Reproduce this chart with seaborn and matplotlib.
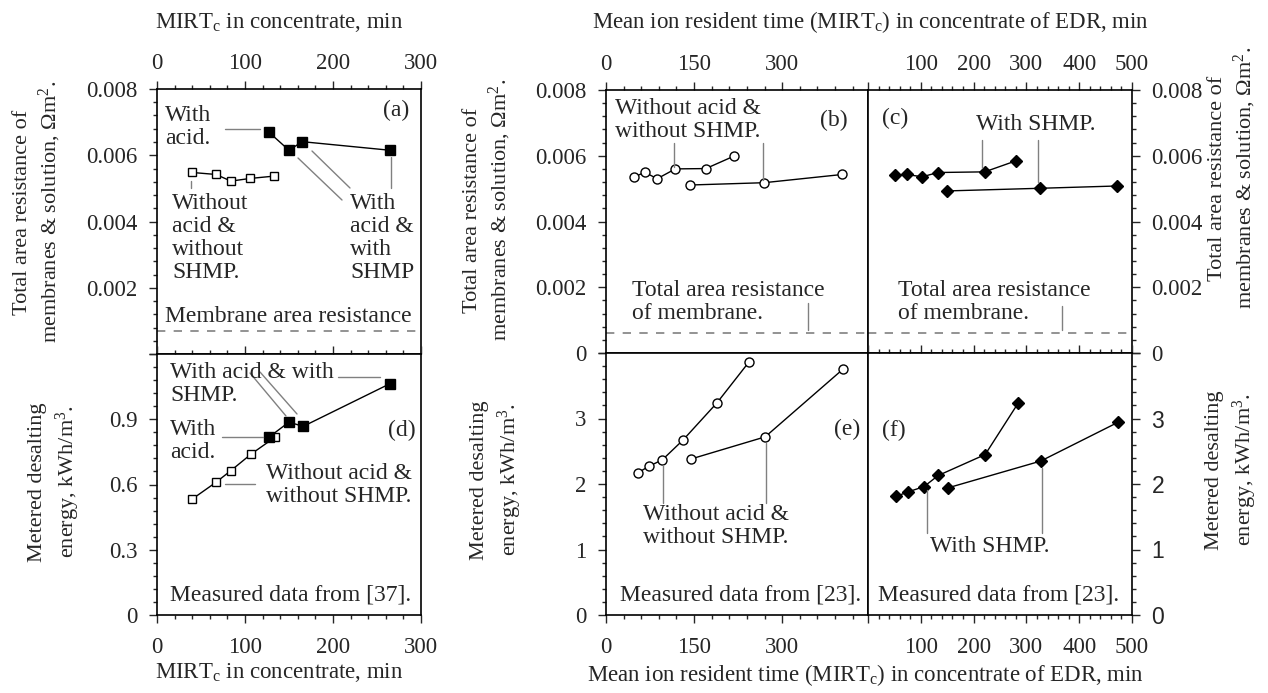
import matplotlib
matplotlib.use("Agg")
import matplotlib.pyplot as plt
import seaborn as sns
from matplotlib.ticker import AutoMinorLocator
from matplotlib.lines import Line2D

sns.set_style("ticks")
plt.rcParams["font.family"] = ["Liberation Serif", "DejaVu Serif"]
plt.rcParams["mathtext.fontset"] = "custom"
plt.rcParams["mathtext.rm"] = "Liberation Serif"
plt.rcParams["mathtext.it"] = "Liberation Serif:italic"

# --- data ---
# (a) / (d): measured data from [37]
mirt_a_open = [40, 67, 84, 106, 133]
res_a_open = [0.00548, 0.00542, 0.00522, 0.0053, 0.00537]
mirt_a_fill = [127, 150, 165, 265]
res_a_fill = [0.0067, 0.00615, 0.00641, 0.00615]
mirt_d_open = [40, 67, 84, 107, 134]
sec_d_open = [0.533, 0.61, 0.664, 0.74, 0.817]
mirt_d_fill = [127, 150, 166, 265]
sec_d_fill = [0.817, 0.887, 0.867, 1.064]
membrane_a = 0.0007

# (b) / (e): without acid & without SHMP, data from [23]
mirt_b1 = [48, 66, 87, 118, 170, 218]
res_b1 = [0.00535, 0.0055, 0.0053, 0.0056, 0.00561, 0.00599]
mirt_b2 = [143, 269, 402]
res_b2 = [0.00511, 0.00518, 0.00543]
mirt_e1 = [54, 73, 96, 131, 189, 244]
sec_e1 = [2.17, 2.27, 2.37, 2.67, 3.24, 3.87]
mirt_e2 = [144, 271, 403]
sec_e2 = [2.38, 2.72, 3.75]

# (c) / (f): with SHMP, data from [23]
mirt_c1 = [51, 73, 103, 132, 221, 281]
res_c1 = [0.00541, 0.00543, 0.00536, 0.00549, 0.00551, 0.00585]
mirt_c2 = [150, 325, 471]
res_c2 = [0.00493, 0.00501, 0.00508]
mirt_f1 = [53, 76, 106, 133, 222, 284]
sec_f1 = [1.81, 1.88, 1.96, 2.13, 2.45, 3.23]
mirt_f2 = [151, 327, 473]
sec_f2 = [1.94, 2.35, 2.94]
membrane_bc = 0.0006

W, H = 1268, 693
fig = plt.figure(figsize=(W / 100, H / 100), dpi=100)


def rect(l, r, t, b):
    return [l / W, 1 - b / H, (r - l) / W, (b - t) / H]


def ftxt(x, y, s, size=17, **kw):
    kw.setdefault("va", "center")
    kw.setdefault("ha", "left")
    kw.setdefault("linespacing", 1.13)
    fig.text(x / W, 1 - y / H, s, fontsize=size, **kw)


def leader(x0, y0, x1, y1):
    fig.add_artist(Line2D([x0 / W, x1 / W], [1 - y0 / H, 1 - y1 / H],
                          color="gray", lw=1))


def series(ax, x, y, marker, filled, ms):
    sns.lineplot(x=x, y=y, ax=ax, color="black", lw=1, marker=marker, ms=ms,
                 markerfacecolor="black" if filled else "white",
                 markeredgecolor="black", markeredgewidth=1,
                 sort=False, estimator=None, legend=False)


def style(ax, xlim, ylim, top=False):
    ax.set_xlim(*xlim)
    ax.set_ylim(*ylim)
    ax.set_xlabel("")
    ax.set_ylabel("")
    ax.tick_params(which="both", direction="out", width=1, labelsize=16.5, pad=8)
    ax.tick_params(axis="x", which="both", pad=5 if top else 10)
    ax.tick_params(which="major", length=6)
    ax.tick_params(which="minor", length=3)
    ax.xaxis.set_minor_locator(AutoMinorLocator(5))
    ax.yaxis.set_minor_locator(AutoMinorLocator(5))
    for s in ax.spines.values():
        s.set_linewidth(1.2)
        s.set_color("black")


res_ticks = [0, 0.002, 0.004, 0.006, 0.008]

# ---- (a) ----
ax_a = fig.add_axes(rect(157, 421, 89, 354))
series(ax_a, mirt_a_open, res_a_open, "s", False, 6)
series(ax_a, mirt_a_fill, res_a_fill, "s", True, 7.5)
ax_a.axhline(membrane_a, color="gray", lw=1.2, ls=(0, (5, 5)))
style(ax_a, (0, 300), (0, 0.008), top=True)
ax_a.tick_params(axis="x", which="both", bottom=False, top=True,
                 labelbottom=False, labeltop=True)
ax_a.set_xticks([0, 100, 200, 300])
ax_a.set_yticks(res_ticks, labels=["", "0.002", "0.004", "0.006", "0.008"])

# ---- (d) ----
ax_d = fig.add_axes(rect(157, 421, 354, 615))
series(ax_d, mirt_d_open, sec_d_open, "s", False, 6)
series(ax_d, mirt_d_fill, sec_d_fill, "s", True, 7.5)
style(ax_d, (0, 300), (0, 1.2))
ax_d.tick_params(axis="x", which="both", bottom=True, top=True,
                 labelbottom=True, labeltop=False)
ax_d.set_xticks([0, 100, 200, 300])
ax_d.set_yticks([0, 0.3, 0.6, 0.9, 1.2], labels=["0", "0.3", "0.6", "0.9", ""])

# ---- (b) ----
ax_b = fig.add_axes(rect(606, 868, 90, 353))
series(ax_b, mirt_b1, res_b1, "o", False, 6.5)
series(ax_b, mirt_b2, res_b2, "o", False, 6.5)
ax_b.axhline(membrane_bc, color="gray", lw=1.2, ls=(0, (5, 5)))
style(ax_b, (0, 446), (0, 0.008), top=True)
ax_b.tick_params(axis="x", which="both", bottom=False, top=True,
                 labelbottom=False, labeltop=True)
ax_b.set_xticks([0, 150, 300])
ax_b.set_yticks(res_ticks, labels=["0", "0.002", "0.004", "0.006", "0.008"])

# ---- (e) ----
ax_e = fig.add_axes(rect(606, 868, 353, 615))
series(ax_e, mirt_e1, sec_e1, "o", False, 6.5)
series(ax_e, mirt_e2, sec_e2, "o", False, 6.5)
style(ax_e, (0, 446), (0, 4))
ax_e.tick_params(axis="x", which="both", bottom=True, top=False)
ax_e.set_xticks([0, 150, 300])
ax_e.set_yticks([0, 1, 2, 3, 4], labels=["0", "1", "2", "3", ""])

# ---- (c) ----
ax_c = fig.add_axes(rect(868, 1132, 90, 353))
series(ax_c, mirt_c1, res_c1, "D", True, 6)
series(ax_c, mirt_c2, res_c2, "D", True, 6)
ax_c.axhline(membrane_bc, color="gray", lw=1.2, ls=(0, (5, 5)))
style(ax_c, (0, 500), (0, 0.008), top=True)
ax_c.tick_params(axis="x", which="both", bottom=False, top=True,
                 labelbottom=False, labeltop=True)
ax_c.tick_params(axis="y", which="both", left=False, right=True,
                 labelleft=False, labelright=True)
ax_c.set_xticks([0, 100, 200, 300, 400, 500],
                labels=["", "100", "200", "300", "400", "500"])
ax_c.set_yticks(res_ticks, labels=["0", "0.002", "0.004", "0.006", "0.008"])

# ---- (f) ----
ax_f = fig.add_axes(rect(868, 1132, 353, 615))
series(ax_f, mirt_f1, sec_f1, "D", True, 6)
series(ax_f, mirt_f2, sec_f2, "D", True, 6)
style(ax_f, (0, 500), (0, 4))
ax_f.tick_params(axis="x", which="both", bottom=True, top=True,
                 labelbottom=True, labeltop=False)
ax_f.tick_params(axis="y", which="both", left=False, right=True,
                 labelleft=False, labelright=True)
ax_f.set_xticks([0, 100, 200, 300, 400, 500],
                labels=["", "100", "200", "300", "400", "500"])
ax_f.set_yticks([0, 1, 2, 3, 4], labels=["0", "1", "2", "3", ""])
for t in ax_f.get_yticklabels():
    t.set_family(["Liberation Sans", "DejaVu Sans"])

# ---- axis titles ----
mirt_short = "MIRT$_{\\rm c}$ in concentrate, min"
mirt_long = "Mean ion resident time (MIRT$_{\\rm c}$) in concentrate of EDR, min"
res_label = "Total area resistance of\nmembranes & solution, Ωm$^2$."
sec_label = "Metered desalting\nenergy, kWh/m$^3$."
ftxt(279, 22, mirt_short, size=16.5, ha="center")
ftxt(279, 672, mirt_short, size=16.5, ha="center")
ftxt(871, 22, mirt_long, size=16.5, ha="center")
ftxt(866, 675, mirt_long, size=16.5, ha="center")
for x, y, s in [(38, 212, res_label), (55, 482, sec_label),
                (488, 210, res_label), (497, 480, sec_label),
                (1233, 178, res_label), (1232, 470, sec_label)]:
    ftxt(x, y, s, size=16, ha="center", rotation=90, multialignment="center",
         linespacing=1.3)

# ---- annotations (a) ----
ftxt(409, 110, "(a)", ha="right")
ftxt(165, 127, "With\nacid.")
leader(225, 129, 260, 129)
ftxt(172, 238, "Without\nacid &\nwithout\nSHMP.")
leader(191, 181, 191, 188)
ftxt(350, 238, "With\nacid &\nwith\nSHMP")
leader(298, 158, 342, 200)
leader(312, 151, 350, 188)
leader(391, 157, 391, 188)
ftxt(165, 317, "Membrane area resistance")

# ---- annotations (d) ----
ftxt(170, 384, "With acid & with\nSHMP.")
leader(338, 377, 380, 377)
leader(250, 373, 286, 416)
leader(260, 372, 297, 414)
ftxt(170, 441, "With\nacid.")
leader(222, 437, 263, 437)
ftxt(266, 485, "Without acid &\nwithout SHMP.")
leader(225, 484, 255, 484)
ftxt(416, 430, "(d)", ha="right")
ftxt(170, 595, "Measured data from [37].")

# ---- annotations (b) ----
ftxt(615, 120, "Without acid &\nwithout SHMP.")
leader(674, 143, 674, 167)
leader(763, 143, 763, 180)
ftxt(848, 120, "(b)", ha="right")
ftxt(632, 302, "Total area resistance\nof membrane.")
leader(808, 303, 808, 330)

# ---- annotations (c) ----
ftxt(882, 118, "(c)")
ftxt(976, 125, "With SHMP.")
leader(982, 140, 982, 168)
leader(1038, 140, 1038, 182)
ftxt(898, 302, "Total area resistance\nof membrane.")
leader(1062, 306, 1062, 330)

# ---- annotations (e) ----
ftxt(860, 429, "(e)", ha="right")
ftxt(643, 526, "Without acid &\nwithout SHMP.")
leader(663, 465, 663, 503)
leader(766, 443, 766, 503)
ftxt(620, 595, "Measured data from [23].")

# ---- annotations (f) ----
ftxt(882, 430, "(f)")
ftxt(930, 547, "With SHMP.")
leader(927, 490, 927, 533)
leader(1042, 468, 1042, 533)
ftxt(878, 595, "Measured data from [23].")

fig.savefig("out.png", dpi=100)
